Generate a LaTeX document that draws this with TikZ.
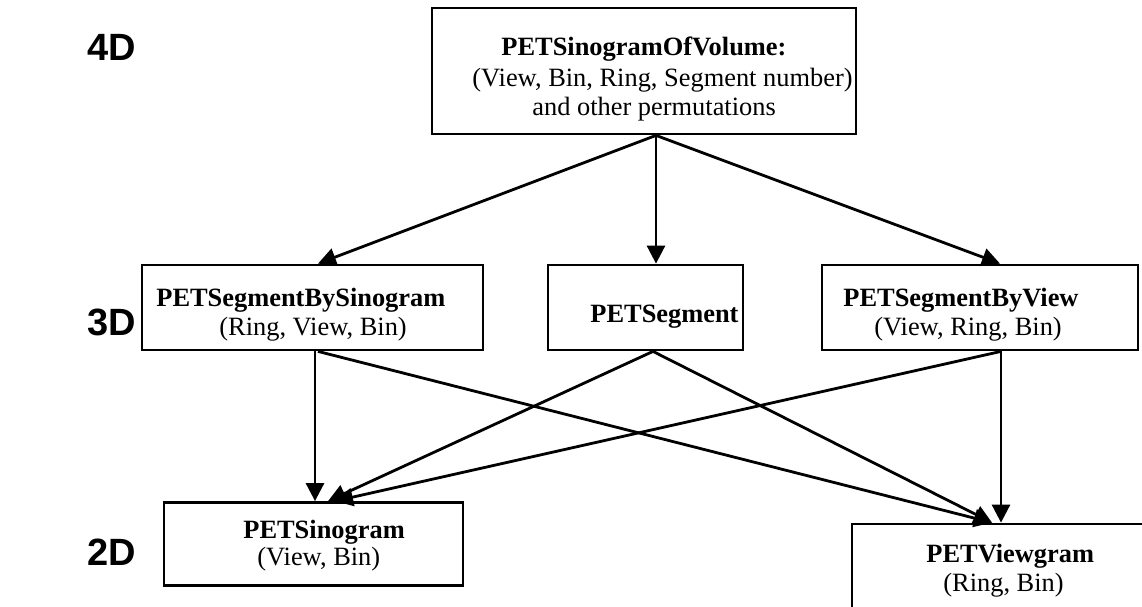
\documentclass[tikz,border=0pt]{standalone}
\usepackage{fontspec}
\setmainfont{Liberation Serif}
\newfontfamily\dimfont{Liberation Sans}
\usepackage{tikz}
\usetikzlibrary{arrows.meta, positioning}

\begin{document}
\begin{tikzpicture}[x=0.5pt, y=-0.5pt, line width=1.4pt,
    box/.style={draw, inner sep=0pt},
    title/.style={anchor=base west, inner sep=0pt, font=\fontsize{13.2}{15}\selectfont\bfseries},
    args/.style={anchor=base west, inner sep=0pt, font=\fontsize{13.2}{15}\selectfont},
    dim/.style={anchor=base west, inner sep=0pt, font=\fontsize{19}{24}\dimfont\bfseries},
    >={Triangle[length=9pt, width=9pt]}]
    \clip (0,0) rectangle (1142,606);

    % dimension labels
    \node[dim] (d4) at (86,60) {4D};
    \node[dim] (d3) at (86,335) {3D};
    \node[dim] (d2) at (86,565) {2D};

    % boxes
    \node[box, minimum width=212pt, minimum height=63pt] (vol) at (644,71) {};
    \node[box, minimum width=170.5pt, minimum height=42.5pt] (seg_sino) at (312.5,307.5) {};
    \node[box, minimum width=97.5pt, minimum height=42.5pt] (seg) at (645.5,307.5) {};
    \node[box, minimum width=158pt, minimum height=42.5pt] (seg_view) at (980,307.5) {};
    \node[box, minimum width=149.5pt, minimum height=41.5pt] (sino) at (313.5,544) {};
    \node[box, minimum width=154pt, minimum height=46pt] (viewgram) at (1006,570) {};

    % texts
    \node[title] (vol_t) at (500,55) {PETSinogramOfVolume:};
    \node[args] (vol_a) at (471,86) {(View, Bin, Ring, Segment number)};
    \node[args] (vol_p) at (531,115) {and other permutations};
    \node[title] (seg_sino_t) at (155,306) {PETSegmentBySinogram};
    \node[args] (seg_sino_a) at (218,335) {(Ring, View, Bin)};
    \node[title] (seg_t) at (589,322) {PETSegment};
    \node[title] (seg_view_t) at (842,306) {PETSegmentByView};
    \node[args] (seg_view_a) at (873,335) {(View, Ring, Bin)};
    \node[title] (sino_t) at (242,538) {PETSinogram};
    \node[args] (sino_a) at (256,565) {(View, Bin)};
    \node[title] (viewgram_t) at (925,562) {PETViewgram};
    \node[args] (viewgram_a) at (942,591) {(Ring, Bin)};

    % 4D -> 3D
    \draw[->] ([xshift=6pt]vol.south) -- ([xshift=2.75pt]seg_sino.north);
    \draw[->] ([xshift=6pt]vol.south) -- ([xshift=5.25pt]seg.north);
    \draw[->] ([xshift=6pt]vol.south) -- ([xshift=10pt]seg_view.north);

    % 3D -> 2D
    \draw[->] ([xshift=1.25pt]seg_sino.south) -- ([xshift=0.75pt]sino.north);
    \draw[->] ([xshift=2.75pt]seg_sino.south) -- ([xshift=-7pt]viewgram.north);
    \draw[->] ([xshift=3.75pt]seg.south) -- ([xshift=7.25pt]sino.north);
    \draw[->] ([xshift=3.75pt]seg.south) -- ([xshift=-7pt]viewgram.north);
    \draw[->] ([xshift=10.5pt]seg_view.south) -- ([xshift=10.75pt]sino.north);
    \draw[->] ([xshift=10.5pt]seg_view.south) -- ([xshift=-2.5pt]viewgram.north);
\end{tikzpicture}
\end{document}
